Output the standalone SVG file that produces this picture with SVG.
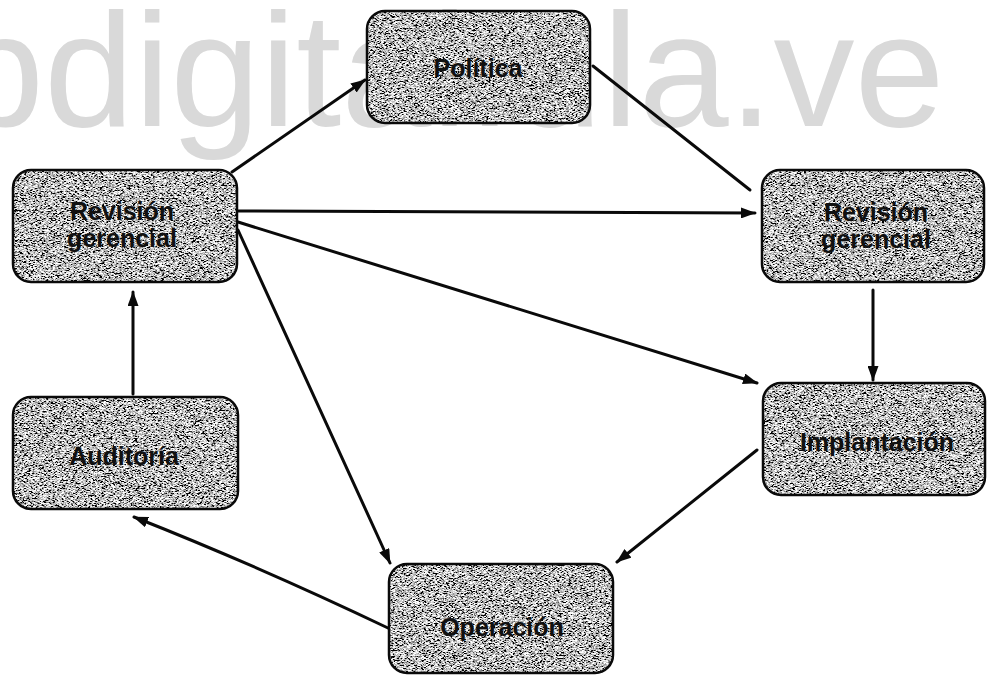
<svg xmlns="http://www.w3.org/2000/svg" width="993" height="675" viewBox="0 0 993 675">
  <style>
    .wm { font-family: "Liberation Sans", Arial, sans-serif; font-size: 162px; fill: #d9d9d9; }
    .box { fill: #808080; }
    .edge { fill: none; stroke: #0a0a0a; stroke-width: 2.5; }
    .lbl { font-family: "Liberation Sans", Arial, sans-serif; font-size: 25px; font-weight: bold; fill: #111; text-anchor: middle; }
    .arr { fill: none; stroke: #0a0a0a; stroke-width: 3; stroke-linecap: round; }
  </style>
  <defs>
    <!-- grainy gray fill for the process boxes -->
    <filter id="grain" x="0" y="0" width="100%" height="100%">
      <feTurbulence type="fractalNoise" baseFrequency="0.45 1.4" numOctaves="2" seed="7" result="n"/>
      <feColorMatrix in="n" type="matrix" values="3.4 0 0 0 -1.2  3.4 0 0 0 -1.2  3.4 0 0 0 -1.2  0 0 0 0 1" result="g"/>
      <feComposite in="g" in2="SourceGraphic" operator="in"/>
    </filter>
    <marker id="head" viewBox="0 0 15 11" refX="14" refY="5.5" markerWidth="15" markerHeight="11" markerUnits="userSpaceOnUse" orient="auto">
      <path d="M0,0 L15,5.5 L0,11 Z" fill="#0a0a0a"/>
    </marker>
  </defs>

  <rect width="993" height="675" fill="#ffffff"/>

  <!-- background watermark -->
  <text class="wm" x="-46" y="126">bdigital.ula.ve</text>

  <g id="connectors">
    <line class="arr" x1="232" y1="172" x2="365" y2="80" marker-end="url(#head)"/>
    <line class="arr" x1="593" y1="66" x2="750" y2="190"/>
    <line class="arr" x1="238" y1="211" x2="755" y2="213" marker-end="url(#head)"/>
    <line class="arr" x1="238" y1="222" x2="757" y2="383" marker-end="url(#head)"/>
    <line class="arr" x1="238" y1="230" x2="390" y2="563" marker-end="url(#head)"/>
    <line class="arr" x1="873" y1="290" x2="873" y2="380" marker-end="url(#head)"/>
    <line class="arr" x1="757" y1="450" x2="617" y2="562" marker-end="url(#head)"/>
    <path class="arr" d="M388,628 Q258,566 134,517" marker-end="url(#head)"/>
    <line class="arr" x1="133" y1="394" x2="133" y2="292" marker-end="url(#head)"/>
  </g>

  <g id="politica">
    <rect class="box" x="367" y="11" width="223" height="112" rx="18" filter="url(#grain)"/>
    <rect class="edge" x="367" y="11" width="223" height="112" rx="18"/>
    <text class="lbl" x="478" y="77">Política</text>
  </g>

  <g id="revision-izq">
    <rect class="box" x="13" y="170" width="224" height="112" rx="18" filter="url(#grain)"/>
    <rect class="edge" x="13" y="170" width="224" height="112" rx="18"/>
    <text class="lbl" x="122" y="220">Revisión</text>
    <text class="lbl" x="122" y="247">gerencial</text>
  </g>

  <g id="revision-der">
    <rect class="box" x="762" y="170" width="222" height="112" rx="18" filter="url(#grain)"/>
    <rect class="edge" x="762" y="170" width="222" height="112" rx="18"/>
    <text class="lbl" x="876" y="221">Revisión</text>
    <text class="lbl" x="876" y="248">gerencial</text>
  </g>

  <g id="implantacion">
    <rect class="box" x="763" y="383" width="222" height="112" rx="18" filter="url(#grain)"/>
    <rect class="edge" x="763" y="383" width="222" height="112" rx="18"/>
    <text class="lbl" x="877" y="451">Implantación</text>
  </g>

  <g id="auditoria">
    <rect class="box" x="13" y="397" width="225" height="112" rx="18" filter="url(#grain)"/>
    <rect class="edge" x="13" y="397" width="225" height="112" rx="18"/>
    <text class="lbl" x="124" y="465">Auditoría</text>
  </g>

  <g id="operacion">
    <rect class="box" x="389" y="564" width="224" height="109" rx="18" filter="url(#grain)"/>
    <rect class="edge" x="389" y="564" width="224" height="109" rx="18"/>
    <text class="lbl" x="502" y="636">Operación</text>
  </g>
</svg>
